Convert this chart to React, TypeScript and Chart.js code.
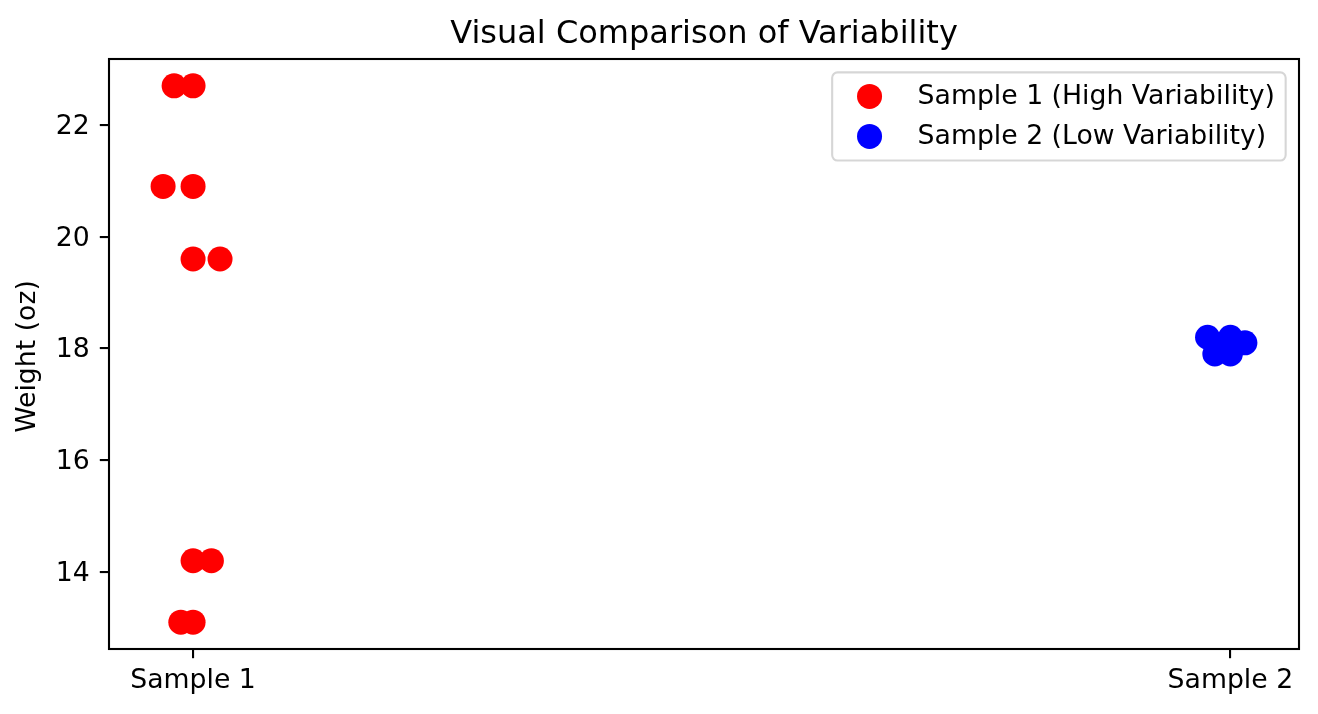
import React, { useEffect, useRef } from "react";
import { Chart, registerables } from "chart.js";

Chart.register(...registerables);

// ---- data ----
const categories = ["Sample 1", "Sample 2"];
const categoryPositions = [0, 1];
const seriesLabels = ["Sample 1 (High Variability)", "Sample 2 (Low Variability)"];
const seriesColors = ["#ff0000", "#0000ff"];
const sample1X = [0, -0.0183, 0, -0.0289, 0, 0.026, 0, 0.0177, 0, -0.0118];
const sample1Y = [22.7, 22.7, 20.9, 20.9, 19.6, 19.6, 14.2, 14.2, 13.1, 13.1];
const sample2X = [1, 0.978, 1, 1.014, 1, 0.985];
const sample2Y = [18.2, 18.2, 18.1, 18.1, 17.9, 17.9];
const yTicks = [14, 16, 18, 20, 22];
const chartTitle = "Visual Comparison of Variability";
const yAxisLabel = "Weight (oz)";

const FONT = '"DejaVu Sans", "Liberation Sans", sans-serif';
const FS = 26.7;
const TITLE_FS = 32;
const LW = 2.1;
const MARKER_R = 12.5;

function margins(vals: number[]) {
  const lo = Math.min(...vals);
  const hi = Math.max(...vals);
  const pad = (hi - lo) * 0.05;
  return [lo - pad, hi + pad];
}

const [xMin, xMax] = margins([...sample1X, ...sample2X]);
const [yMin, yMax] = margins([...sample1Y, ...sample2Y]);

const overlayPlugin = {
  id: "overlay",
  afterDraw(chart: any) {
    const { ctx, chartArea: a } = chart;
    ctx.save();
    // frame
    ctx.strokeStyle = "#000";
    ctx.lineWidth = LW;
    ctx.strokeRect(a.left, a.top, a.right - a.left, a.bottom - a.top);

    // title
    ctx.fillStyle = "#000";
    ctx.font = `${TITLE_FS}px ${FONT}`;
    ctx.textAlign = "center";
    ctx.textBaseline = "alphabetic";
    ctx.fillText(chartTitle, (a.left + a.right) / 2, a.top - 15.8);

    // y label
    ctx.save();
    ctx.translate(34.5, (a.top + a.bottom) / 2 + 2.5);
    ctx.rotate(-Math.PI / 2);
    ctx.font = `${FS}px ${FONT}`;
    ctx.textAlign = "center";
    ctx.textBaseline = "alphabetic";
    ctx.fillText(yAxisLabel, 0, 0);
    ctx.restore();

    // legend
    ctx.font = `${FS}px ${FONT}`;
    const textW = Math.max(...seriesLabels.map((s) => ctx.measureText(s).width));
    const boxW = 0.4 * FS * 2 + 2 * FS + 0.8 * FS + textW;
    const rowH = FS;
    const boxH = 0.4 * FS * 2 + rowH * 2 + 0.5 * FS;
    const right = a.right - 0.5 * FS;
    const top = a.top + 0.5 * FS;
    const left = right - boxW;
    const r = 0.2 * FS;
    ctx.beginPath();
    ctx.moveTo(left + r, top);
    ctx.lineTo(right - r, top);
    ctx.arcTo(right, top, right, top + r, r);
    ctx.lineTo(right, top + boxH - r);
    ctx.arcTo(right, top + boxH, right - r, top + boxH, r);
    ctx.lineTo(left + r, top + boxH);
    ctx.arcTo(left, top + boxH, left, top + boxH - r, r);
    ctx.lineTo(left, top + r);
    ctx.arcTo(left, top, left + r, top, r);
    ctx.closePath();
    ctx.fillStyle = "rgba(255,255,255,0.8)";
    ctx.fill();
    ctx.strokeStyle = "rgba(204,204,204,0.8)";
    ctx.lineWidth = LW;
    ctx.stroke();

    seriesLabels.forEach((label, i) => {
      const cy = top + 0.4 * FS + rowH / 2 + i * (rowH + 0.5 * FS);
      const mx = left + 0.4 * FS + FS;
      ctx.beginPath();
      ctx.arc(mx, cy, MARKER_R, 0, Math.PI * 2);
      ctx.fillStyle = seriesColors[i];
      ctx.fill();
      ctx.fillStyle = "#000";
      ctx.textAlign = "left";
      ctx.textBaseline = "alphabetic";
      ctx.fillText(label, left + 0.4 * FS + 2 * FS + 0.8 * FS, cy + 0.29 * FS);
    });
    ctx.restore();
  },
};

export default function App() {
  const ref = useRef<HTMLCanvasElement | null>(null);
  useEffect(() => {
    if (!ref.current) return;
    const chart = new Chart(ref.current, {
      type: "scatter",
      data: {
        datasets: [
          {
            label: seriesLabels[0],
            data: sample1X.map((x, i) => ({ x, y: sample1Y[i] })),
            backgroundColor: seriesColors[0],
            borderWidth: 0,
            pointRadius: MARKER_R,
            pointHoverRadius: MARKER_R,
          },
          {
            label: seriesLabels[1],
            data: sample2X.map((x, i) => ({ x, y: sample2Y[i] })),
            backgroundColor: seriesColors[1],
            borderWidth: 0,
            pointRadius: MARKER_R,
            pointHoverRadius: MARKER_R,
          },
        ],
      },
      options: {
        responsive: false,
        animation: false,
        devicePixelRatio: 1,
        events: [],
        layout: { padding: { top: 59, right: 19, left: 0, bottom: 0 } },
        plugins: {
          legend: { display: false },
          title: { display: false },
          tooltip: { enabled: false },
        },
        scales: {
          x: {
            type: "linear",
            min: xMin,
            max: xMax,
            afterBuildTicks: (s: any) => {
              s.ticks = categoryPositions.map((v) => ({ value: v }));
            },
            afterFit: (s: any) => {
              s.height = 65;
            },
            ticks: {
              callback: (v: any) => categories[categoryPositions.indexOf(Number(v))] ?? "",
              font: { family: FONT, size: FS },
              color: "#000",
              padding: 7,
              maxRotation: 0,
              autoSkip: false,
            },
            grid: {
              drawOnChartArea: false,
              drawTicks: true,
              tickLength: 9.2,
              color: "#000",
              lineWidth: LW,
            },
            border: { display: false },
          },
          y: {
            type: "linear",
            min: yMin,
            max: yMax,
            afterBuildTicks: (s: any) => {
              s.ticks = yTicks.map((v) => ({ value: v }));
            },
            afterFit: (s: any) => {
              s.width = 109;
            },
            ticks: {
              callback: (v: any) => String(v),
              font: { family: FONT, size: FS },
              color: "#000",
              padding: 10,
              labelOffset: 2,
              autoSkip: false,
            },
            grid: {
              drawOnChartArea: false,
              drawTicks: true,
              tickLength: 9.2,
              color: "#000",
              lineWidth: LW,
            },
            border: { display: false },
          },
        },
      },
      plugins: [overlayPlugin],
    } as any);
    return () => chart.destroy();
  }, []);
  return (
    <div style={{ position: "fixed", left: 0, top: 0, width: 1318, height: 714, background: "#fff" }}>
      <canvas ref={ref} width={1318} height={714} style={{ display: "block" }} />
    </div>
  );
}
